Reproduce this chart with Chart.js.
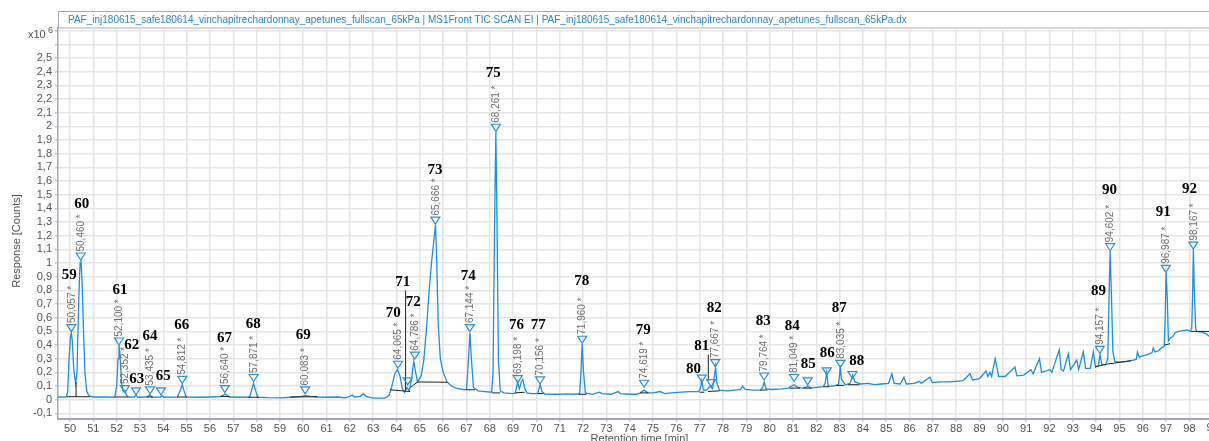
<!DOCTYPE html>
<html>
<head>
<meta charset="utf-8">
<script src="https://cdn.jsdelivr.net/npm/chart.js@4/dist/chart.umd.min.js"></script>
<style>
  html, body { margin: 0; padding: 0; background: #fff; }
  canvas { display: block; }
</style>
</head>
<body>
<canvas id="tic" width="1209" height="441"></canvas>
<script>
"use strict";

const titleText = "PAF_inj180615_safe180614_vinchapitrechardonnay_apetunes_fullscan_65kPa | MS1Front TIC SCAN EI | PAF_inj180615_safe180614_vinchapitrechardonnay_apetunes_fullscan_65kPa.dx";

// axis ticks
const xTicks = [50, 51, 52, 53, 54, 55, 56, 57, 58, 59, 60, 61, 62, 63, 64, 65, 66, 67, 68, 69, 70, 71, 72, 73, 74,
  75, 76, 77, 78, 79, 80, 81, 82, 83, 84, 85, 86, 87, 88, 89, 90, 91, 92, 93, 94, 95, 96, 97, 98];
const yTicks = [-0.1, 0, 0.1, 0.2, 0.3, 0.4, 0.5, 0.6, 0.7, 0.8, 0.9, 1, 1.1, 1.2, 1.3, 1.4, 1.5, 1.6, 1.7, 1.8,
  1.9, 2, 2.1, 2.2, 2.3, 2.4, 2.5, 2.6, 2.7];

// TIC trace [retention time (min), response (x10^6 counts)]
const tic = [
  [49.49, 0.02], [49.84, 0.021], [49.9, 0.06], [49.96, 0.3], [50.02, 0.46], [50.06, 0.49], [50.1, 0.43], [50.16, 0.22],
  [50.24, 0.12], [50.3, 0.2], [50.37, 0.7], [50.43, 1.0], [50.47, 1.02], [50.52, 0.85], [50.58, 0.5], [50.64, 0.2],
  [50.72, 0.06], [50.82, 0.028], [51.0, 0.02], [51.5, 0.02], [51.92, 0.018],
  [52.0, 0.1], [52.06, 0.3], [52.1, 0.4], [52.15, 0.32], [52.21, 0.12], [52.28, 0.06], [52.35, 0.07], [52.42, 0.03],
  [52.55, 0.018], [52.75, 0.02], [52.83, 0.035], [52.9, 0.018], [53.3, 0.02], [53.43, 0.035], [53.52, 0.018],
  [53.88, 0.02], [53.95, 0.03], [54.02, 0.018], [54.6, 0.02], [54.73, 0.07], [54.81, 0.11], [54.88, 0.07], [54.98, 0.02],
  [55.5, 0.018], [56.0, 0.02], [56.45, 0.022], [56.56, 0.032], [56.64, 0.042], [56.74, 0.03], [56.85, 0.02],
  [57.3, 0.018], [57.7, 0.018], [57.79, 0.07], [57.87, 0.12], [57.95, 0.07], [58.05, 0.018], [58.5, 0.015],
  [59.0, 0.014], [59.5, 0.018], [59.9, 0.022], [60.08, 0.03], [60.3, 0.024], [60.6, 0.02], [61.0, 0.018],
  [61.5, 0.02], [61.8, 0.014], [62.0, 0.025], [62.1, 0.035], [62.2, 0.02], [62.45, 0.025], [62.58, 0.045],
  [62.7, 0.025], [63.0, 0.012], [63.5, 0.012],
  [63.68, 0.03], [63.8, 0.1], [63.93, 0.19], [64.04, 0.22], [64.14, 0.18], [64.25, 0.08], [64.35, 0.055],
  [64.45, 0.09], [64.55, 0.065], [64.65, 0.16], [64.74, 0.28], [64.82, 0.2], [64.9, 0.13], [65.05, 0.17],
  [65.17, 0.29], [65.3, 0.55], [65.4, 0.8], [65.5, 1.0], [65.58, 1.13], [65.67, 1.28], [65.72, 1.05], [65.79, 0.55],
  [65.88, 0.3], [66.0, 0.2], [66.17, 0.13], [66.35, 0.1], [66.55, 0.085], [66.9, 0.073],
  [67.0, 0.075], [67.07, 0.25], [67.15, 0.49], [67.21, 0.3], [67.3, 0.09], [67.5, 0.065], [67.8, 0.06],
  [68.08, 0.055], [68.14, 0.2], [68.2, 1.2], [68.26, 1.96], [68.31, 1.3], [68.37, 0.3], [68.45, 0.065], [68.6, 0.05],
  [69.0, 0.045], [69.1, 0.05], [69.19, 0.13], [69.27, 0.08], [69.35, 0.13], [69.42, 0.15], [69.5, 0.08], [69.6, 0.05],
  [69.8, 0.045], [70.05, 0.045], [70.16, 0.11], [70.24, 0.06], [70.35, 0.042], [70.7, 0.04], [71.0, 0.04],
  [71.3, 0.043], [71.6, 0.04], [71.85, 0.045], [71.91, 0.2], [71.96, 0.41], [72.02, 0.2], [72.1, 0.05], [72.4, 0.04],
  [72.7, 0.055], [72.8, 0.045], [73.2, 0.04], [73.5, 0.06], [73.6, 0.045], [74.0, 0.04], [74.3, 0.04], [74.45, 0.05],
  [74.62, 0.07], [74.78, 0.05], [75.0, 0.05], [75.3, 0.06], [75.5, 0.045], [75.8, 0.05], [76.2, 0.055], [76.6, 0.06],
  [76.95, 0.06],
  [77.03, 0.08], [77.09, 0.14], [77.16, 0.07], [77.3, 0.07], [77.45, 0.1], [77.55, 0.08], [77.62, 0.16], [77.68, 0.24],
  [77.74, 0.12], [77.85, 0.07], [78.2, 0.065], [78.5, 0.07], [78.75, 0.075], [78.84, 0.1], [78.95, 0.075], [79.3, 0.07],
  [79.6, 0.07], [79.7, 0.09], [79.77, 0.13], [79.85, 0.08], [80.1, 0.075], [80.5, 0.08], [80.8, 0.085], [80.95, 0.1],
  [81.05, 0.11], [81.2, 0.09], [81.4, 0.085], [81.55, 0.09], [81.64, 0.1], [81.75, 0.085], [82.0, 0.09], [82.3, 0.095],
  [82.38, 0.12], [82.45, 0.2], [82.51, 0.1], [82.7, 0.1], [82.95, 0.11], [83.0, 0.18], [83.03, 0.25], [83.08, 0.15],
  [83.25, 0.11], [83.45, 0.12], [83.56, 0.18], [83.66, 0.13], [83.9, 0.115], [84.2, 0.12], [84.5, 0.11], [84.8, 0.115],
  [85.1, 0.12], [85.24, 0.19], [85.34, 0.12], [85.6, 0.115], [85.76, 0.165], [85.86, 0.115], [86.2, 0.12],
  [86.42, 0.135], [86.5, 0.12], [86.88, 0.165], [86.98, 0.125], [87.3, 0.13], [87.7, 0.13], [88.0, 0.135],
  [88.3, 0.14], [88.59, 0.19], [88.7, 0.145], [89.0, 0.155], [89.28, 0.21], [89.36, 0.17], [89.45, 0.2],
  [89.52, 0.17], [89.67, 0.3], [89.74, 0.24], [89.82, 0.17], [90.1, 0.17], [90.52, 0.24], [90.6, 0.175],
  [90.9, 0.18], [91.2, 0.22], [91.3, 0.19], [91.57, 0.3], [91.66, 0.2], [92.02, 0.22], [92.1, 0.2], [92.42, 0.365],
  [92.5, 0.22], [92.6, 0.21], [92.81, 0.336], [92.9, 0.22], [93.17, 0.29], [93.25, 0.22], [93.45, 0.35],
  [93.55, 0.23], [93.75, 0.23], [93.88, 0.35], [93.97, 0.24], [94.1, 0.25], [94.17, 0.33], [94.24, 0.26],
  [94.4, 0.255], [94.5, 0.3], [94.56, 0.8], [94.6, 1.09], [94.65, 0.8], [94.72, 0.35], [94.8, 0.28], [95.0, 0.275],
  [95.3, 0.28], [95.6, 0.29], [95.72, 0.295], [95.77, 0.35], [95.85, 0.31], [95.96, 0.32], [96.2, 0.33],
  [96.4, 0.345], [96.45, 0.38], [96.52, 0.35], [96.7, 0.36], [96.8, 0.38], [96.92, 0.39], [96.96, 0.6], [97.0, 0.93],
  [97.05, 0.75], [97.1, 0.43], [97.17, 0.45], [97.28, 0.46], [97.39, 0.49], [97.53, 0.5], [97.74, 0.505],
  [97.9, 0.51], [98.02, 0.5], [98.1, 0.52], [98.14, 0.8], [98.17, 1.1], [98.21, 0.8], [98.27, 0.52], [98.31, 0.5],
  [98.53, 0.495], [98.74, 0.48], [98.84, 0.465]
];

// integration baselines and leader lines (null = break)
const baselines = [
  [49.86, 0.022], [50.86, 0.022], null, [50.26, 0.022], [50.26, 0.13], null,
  [51.93, 0.02], [52.5, 0.02], null, [53.3, 0.02], [53.55, 0.02], null, [54.6, 0.02], [55.0, 0.02], null,
  [56.45, 0.025], [56.85, 0.022], null, [57.65, 0.018], [58.1, 0.018], null, [59.45, 0.02], [60.6, 0.022], null,
  [63.72, 0.073], [64.58, 0.06], null, [64.6, 0.09], [64.9, 0.13], [66.17, 0.128], null,
  [67.0, 0.073], [67.37, 0.073], null, [68.1, 0.05], [68.45, 0.05], null, [69.1, 0.05], [69.5, 0.055], null,
  [70.05, 0.045], [70.3, 0.045], null, [71.8, 0.04], [72.15, 0.04], null, [74.45, 0.05], [74.8, 0.05], null,
  [77.0, 0.055], [77.2, 0.055], null, [77.35, 0.06], [77.85, 0.065], null, [79.6, 0.07], [79.9, 0.072], null,
  [80.85, 0.085], [81.3, 0.085], null, [81.45, 0.085], [81.8, 0.085], null, [82.3, 0.095], [82.55, 0.095], null,
  [82.85, 0.105], [83.2, 0.105], null, [83.35, 0.11], [83.85, 0.11], null,
  [93.95, 0.24], [94.45, 0.26], [95.5, 0.285], null, [96.93, 0.4], [97.17, 0.41], null, [98.05, 0.5], [98.84, 0.5], null,
  [64.39, 0.07], [64.39, 0.8], null, [77.37, 0.14], [77.37, 0.33]
];

// peak annotations
const peakNums = [59, 60, 61, 62, 63, 64, 65, 66, 67, 68, 69, 70, 71, 72, 73, 74, 75, 76, 77, 78, 79, 80, 81, 82,
  83, 84, 85, 86, 87, 88, 89, 90, 91, 92];
const peakTimes = [50.057, 50.46, 52.1, 52.352, 52.83, 53.435, 53.9, 54.812, 56.64, 57.871, 60.083, 64.065, 64.48,
  64.786, 65.666, 67.144, 68.261, 69.198, 70.156, 71.96, 74.619, 77.09, 77.49, 77.667, 79.764, 81.049, 81.63, 82.45,
  83.035, 83.55, 94.157, 94.602, 96.987, 98.167];
const markerVals = [0.524, 1.048, 0.426, 0.078, 0.061, 0.068, 0.061, 0.146, 0.078, 0.159, 0.068, 0.256, 0.134, 0.322,
  1.311, 0.524, 1.99, 0.151, 0.141, 0.439, 0.117, 0.154, 0.122, 0.268, 0.17, 0.159, 0.134, 0.207, 0.263, 0.181,
  0.365, 1.116, 0.958, 1.128];
const rtLabels = ["50,057 *", "50,460 *", "52,100 *", "52,352 *", "", "53,435 *", "", "54,812 *", "56,640 *",
  "57,871 *", "60,083 *", "64,065 *", "", "64,786 *", "65,666 *", "67,144 *", "68,261 *", "69,198 *", "70,156 *",
  "71,960 *", "74,619 *", "", "", "77,667 *", "79,764 *", "81,049 *", "", "", "83,035 *", "", "94,157 *",
  "94,602 *", "96,987 *", "98,167 *"];
const numTimes = [49.97, 50.5, 52.14, 52.65, 52.86, 53.43, 54.0, 54.79, 56.62, 57.86, 60.0, 63.86, 64.27, 64.72,
  65.65, 67.08, 68.15, 69.15, 70.08, 71.94, 74.58, 76.73, 77.09, 77.62, 79.73, 80.97, 81.66, 82.47, 82.99, 83.74,
  94.1, 94.57, 96.88, 98.0];
const numVals = [0.914, 1.433, 0.804, 0.397, 0.151, 0.463, 0.17, 0.543, 0.451, 0.556, 0.475, 0.634, 0.857, 0.714,
  1.681, 0.906, 2.393, 0.543, 0.543, 0.865, 0.512, 0.224, 0.39, 0.67, 0.572, 0.541, 0.261, 0.341, 0.67, 0.28,
  0.792, 1.535, 1.376, 1.542];

const toXY = arr => arr.map(p => p ? { x: p[0], y: p[1] } : { x: NaN, y: null });

const annotate = {
  id: "annotate",
  beforeDraw(chart) {
    const c = chart.ctx;
    c.save();
    c.fillStyle = "#fff";
    c.fillRect(0, 0, chart.width, chart.height);
    // title bar
    c.strokeStyle = "#a9acbd";
    c.lineWidth = 1;
    c.strokeRect(58.5, 11.5, chart.width - 58, 16.5);
    c.fillStyle = "#2b87d3";
    c.font = "10px Arial";
    c.textBaseline = "middle";
    c.fillText(titleText, 68, 20);
    c.restore();
  },
  afterDatasetsDraw(chart) {
    const c = chart.ctx, xs = chart.scales.x, ys = chart.scales.y;
    c.save();
    peakNums.forEach((n, i) => {
      const px = xs.getPixelForValue(peakTimes[i]);
      const py = ys.getPixelForValue(markerVals[i]);
      // open down triangle
      c.strokeStyle = "#2b8fe0";
      c.lineWidth = 1.2;
      c.beginPath();
      c.moveTo(px - 4.5, py - 3.5);
      c.lineTo(px + 4.5, py - 3.5);
      c.lineTo(px, py + 3.5);
      c.closePath();
      c.stroke();
      // rotated retention time
      if (rtLabels[i]) {
        c.save();
        c.translate(px + 0.5, py - 5);
        c.rotate(-Math.PI / 2);
        c.fillStyle = "#707070";
        c.font = "10px Arial";
        c.textAlign = "left";
        c.textBaseline = "middle";
        c.fillText(rtLabels[i], 0, 0);
        c.restore();
      }
      // peak number
      c.fillStyle = "#000";
      c.font = "bold 15px 'Liberation Serif'";
      c.textAlign = "center";
      c.textBaseline = "middle";
      c.fillText(String(n), xs.getPixelForValue(numTimes[i]), ys.getPixelForValue(numVals[i]));
    });

    // axis captions
    c.fillStyle = "#555";
    c.font = "11px Arial";
    c.textAlign = "left";
    c.textBaseline = "middle";
    c.fillText("x10", 28, 35);
    c.font = "9px Arial";
    c.fillText("6", 48, 31);
    c.font = "11px Arial";
    c.textAlign = "center";
    c.fillText("99", xs.getPixelForValue(99), 428);
    c.textBaseline = "top";
    c.fillText("Retention time [min]", (chart.chartArea.left + chart.chartArea.right) / 2 + 6, 433);
    c.save();
    c.translate(17, 241);
    c.rotate(-Math.PI / 2);
    c.textBaseline = "middle";
    c.fillText("Response [Counts]", 0, 0);
    c.restore();
    c.restore();
  }
};

new Chart(document.getElementById("tic"), {
  type: "line",
  data: {
    datasets: [
      {
        data: toXY(baselines),
        borderColor: "#222",
        borderWidth: 1,
        pointRadius: 0,
        spanGaps: false,
        tension: 0
      },
      {
        data: toXY(tic),
        borderColor: "#1f8fe0",
        borderWidth: 1.3,
        pointRadius: 0,
        tension: 0
      }
    ]
  },
  options: {
    responsive: false,
    animation: false,
    events: [],
    layout: { padding: { top: 28, left: 0, right: 0, bottom: 0 } },
    plugins: { legend: { display: false }, tooltip: { enabled: false } },
    scales: {
      x: {
        type: "linear",
        min: 49.485,
        max: 98.84,
        afterFit: s => { s.height = 22; },
        afterBuildTicks: s => { s.ticks = xTicks.map(v => ({ value: v })); },
        ticks: {
          autoSkip: false,
          maxRotation: 0,
          padding: 0,
          color: "#555",
          font: { family: "Arial", size: 11 },
          callback: v => String(v)
        },
        grid: { color: "#e6e6e6", lineWidth: 1.5, tickLength: 3, tickColor: "#c8cad4" },
        border: { color: "#a3a6b8", width: 2 }
      },
      y: {
        type: "linear",
        min: -0.141,
        max: 2.72,
        afterFit: s => { s.width = 58; },
        afterBuildTicks: s => { s.ticks = yTicks.map(v => ({ value: v })); },
        ticks: {
          autoSkip: false,
          padding: 3,
          color: "#555",
          font: { family: "Arial", size: 11 },
          callback: v => v > 2.55 ? "" : String(Math.round(v * 10) / 10).replace(".", ",")
        },
        grid: { color: "#e6e6e6", lineWidth: 1.5, tickLength: 3, tickColor: "#c8cad4" },
        border: { color: "#a3a6b8", width: 1.5 }
      }
    }
  },
  plugins: [annotate]
});
</script>
</body>
</html>
